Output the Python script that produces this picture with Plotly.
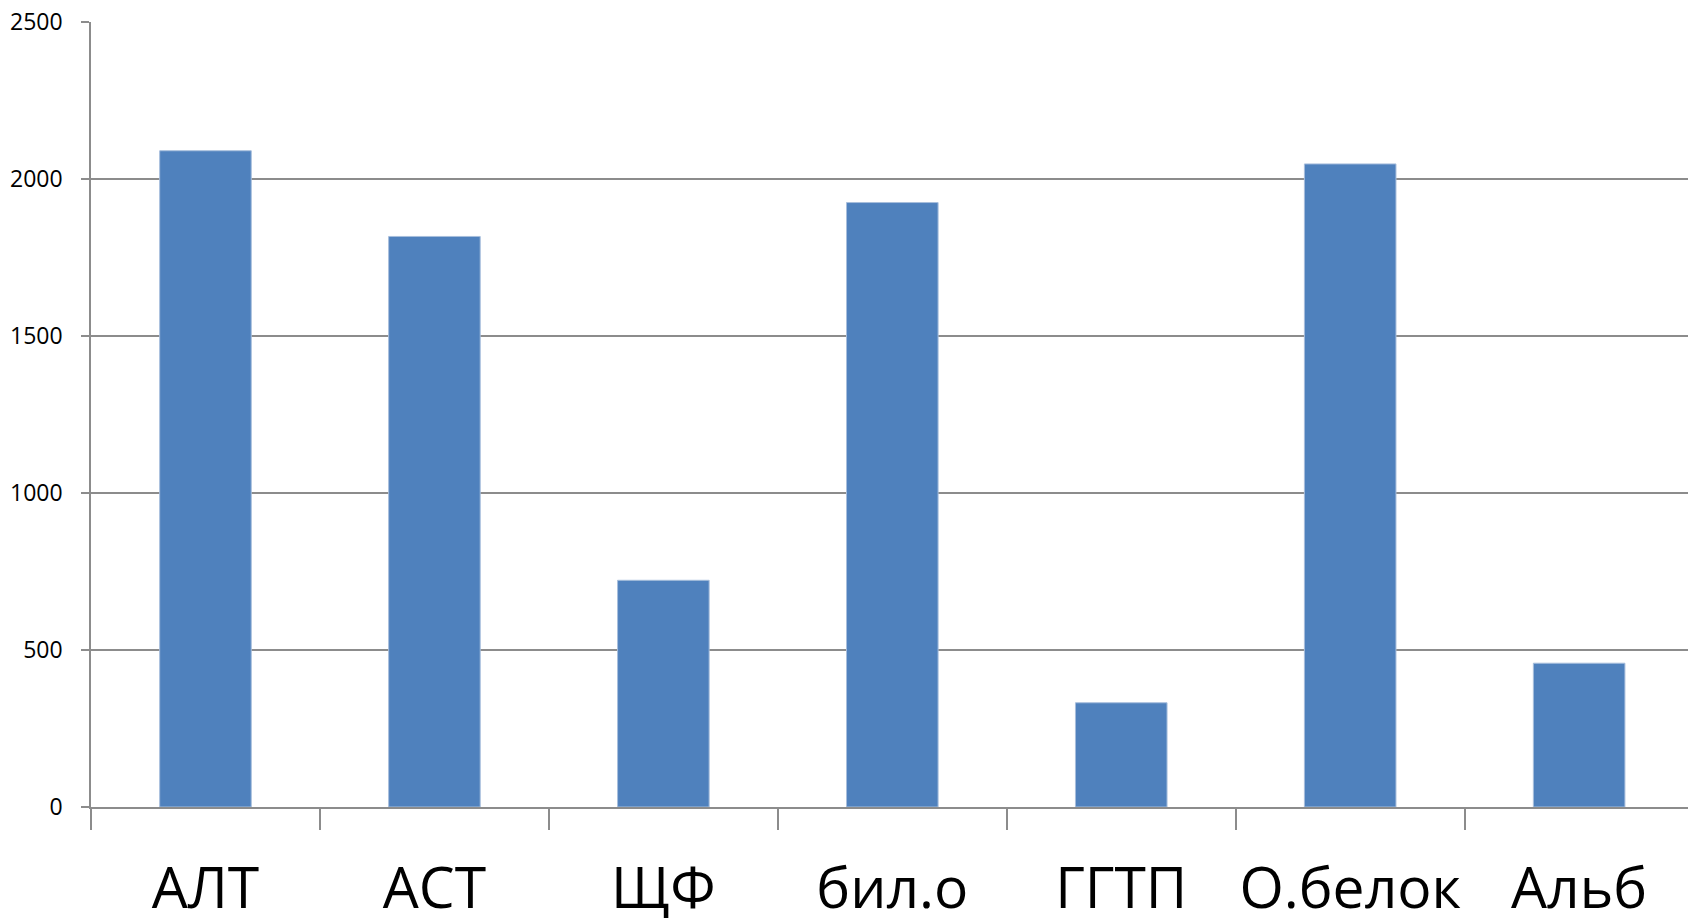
import plotly.graph_objects as go

# Lab panel: mean values per test
categories = ["АЛТ", "АСТ", "ЩФ", "бил.о", "ГГТП", "О.белок", "Альб"]
values = [2090, 1817, 722, 1925, 332, 2048, 458]
y_ticks = [0, 500, 1000, 1500, 2000, 2500]

BAR = "#4F81BD"
GRID = "#8C8C8C"

fig = go.Figure(
    go.Bar(
        x=categories,
        y=values,
        width=0.4,
        marker=dict(color=BAR, line=dict(color="#A7BEDC", width=1)),
    )
)

fig.update_layout(
    width=1688,
    height=918,
    margin=dict(l=91, r=0, t=22, b=111),
    paper_bgcolor="white",
    plot_bgcolor="white",
    showlegend=False,
    bargap=0.6,
)

fig.update_xaxes(
    type="category",
    range=[-0.5, 6.4755],
    automargin=False,
    showline=True,
    linecolor=GRID,
    linewidth=1.5,
    showgrid=False,
    ticks="outside",
    tickson="boundaries",
    ticklen=21,
    tickwidth=1.5,
    tickcolor=GRID,
    tickangle=0,
    tickfont=dict(family="Open Sans, sans-serif", size=57, color="black"),
    ticklabelstandoff=31,
)

fig.update_yaxes(
    range=[0, 2500],
    automargin=False,
    tickvals=y_ticks,
    ticktext=[str(v) for v in y_ticks],
    showline=True,
    linecolor=GRID,
    linewidth=1.5,
    showgrid=True,
    gridcolor=GRID,
    gridwidth=1.5,
    zeroline=False,
    ticks="outside",
    ticklen=8,
    tickwidth=1.5,
    tickcolor=GRID,
    tickfont=dict(family="Open Sans, sans-serif", size=23, color="black"),
    ticklabelstandoff=14,
)

fig.write_html("out.html")
